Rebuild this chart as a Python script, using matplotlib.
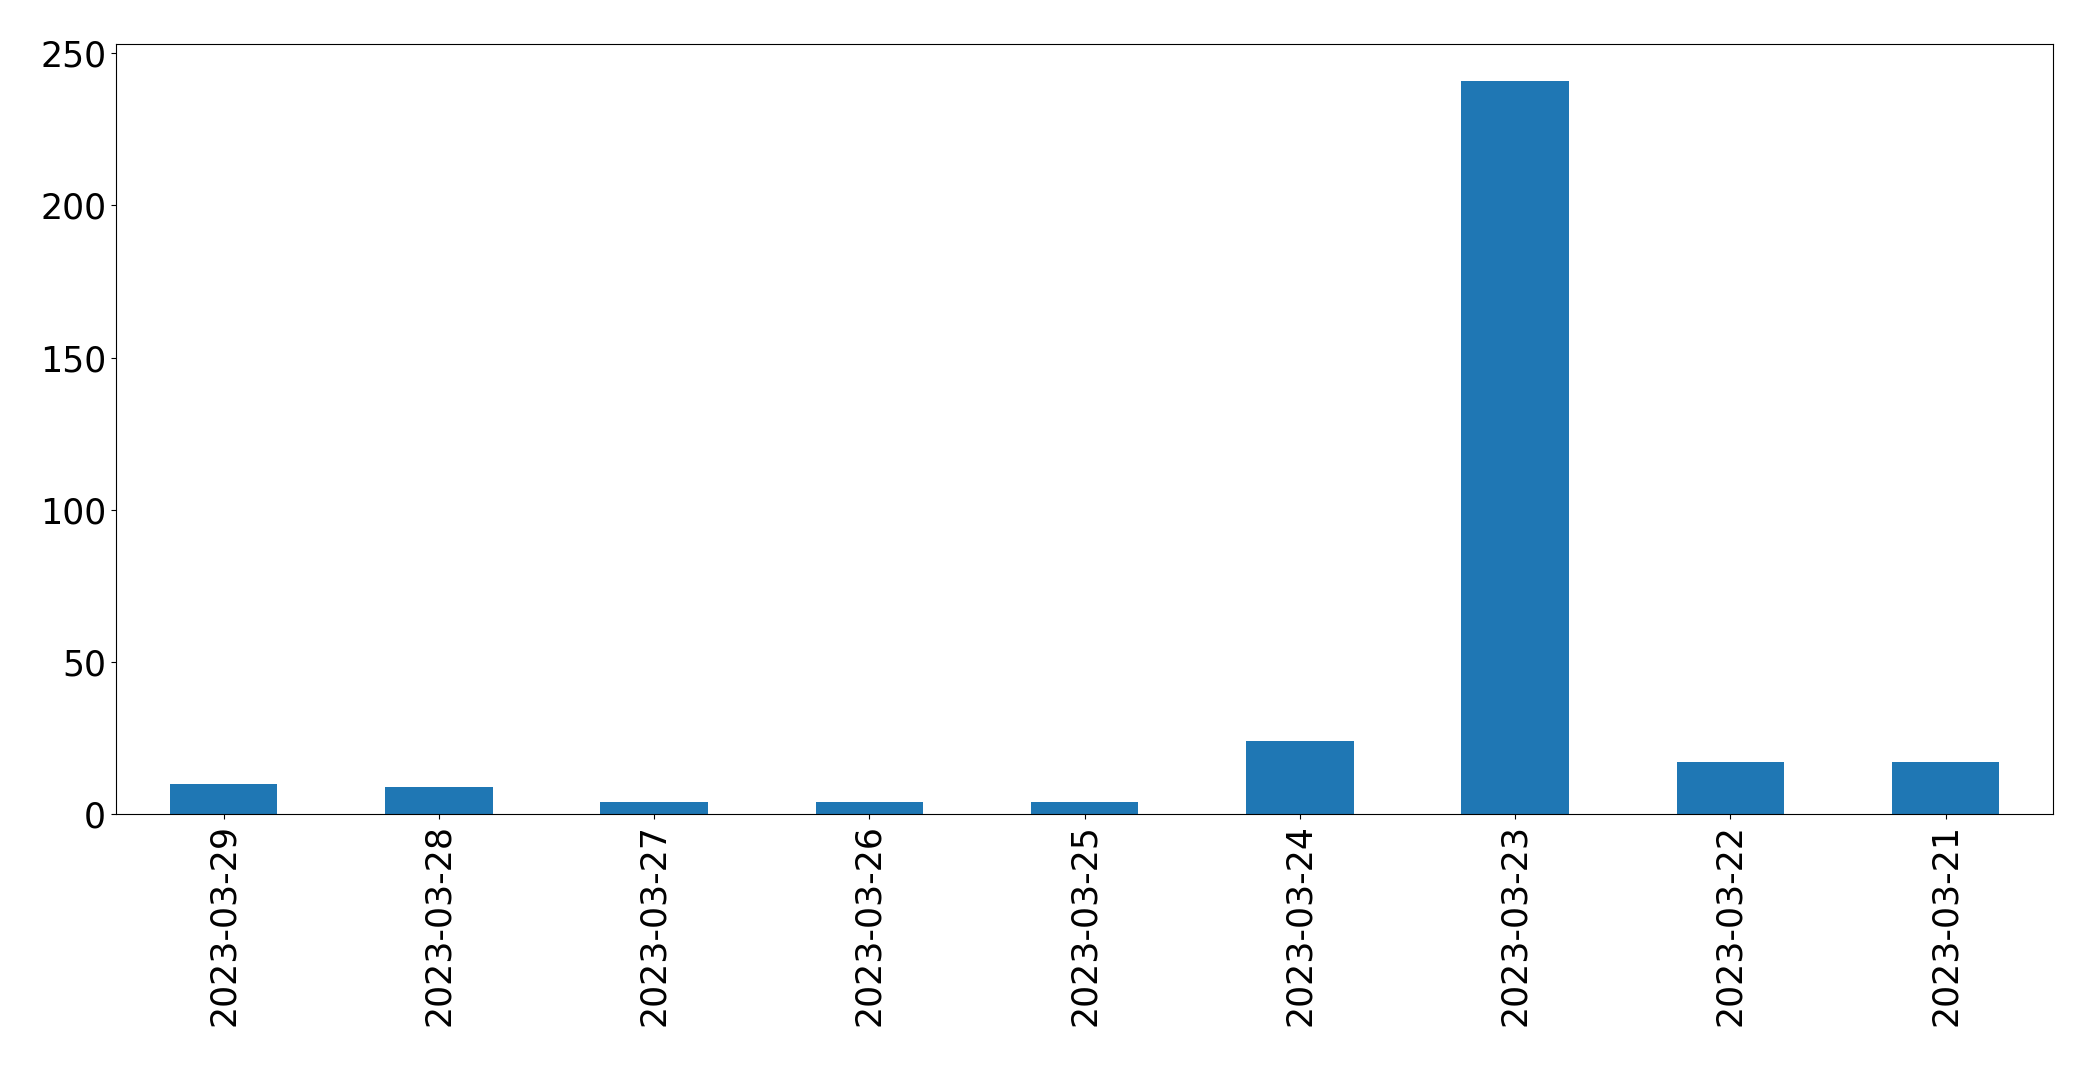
import matplotlib
matplotlib.use('Agg')
import matplotlib.pyplot as plt
import numpy as np

dates = [
    '2023-03-29', '2023-03-28', '2023-03-27', '2023-03-26', '2023-03-25',
    '2023-03-24', '2023-03-23', '2023-03-22', '2023-03-21'
]
counts = [10, 9, 4, 4, 4, 24, 241, 17, 17]


def main():
    fig = plt.figure(figsize=(20.93, 10.66), dpi=100)
    ax = fig.add_axes([0.0554, 0.2364, 0.9256, 0.7223])

    x = np.arange(len(dates))
    ax.bar(x, counts, width=0.5, color='#1f77b4')
    ax.set_xlim(-0.5, len(dates) - 0.5)
    ax.set_xticks(x)
    ax.set_xticklabels(dates, rotation=90)
    ax.tick_params(labelsize=25)

    fig.savefig('out.png', dpi=100)


if __name__ == '__main__':
    main()
